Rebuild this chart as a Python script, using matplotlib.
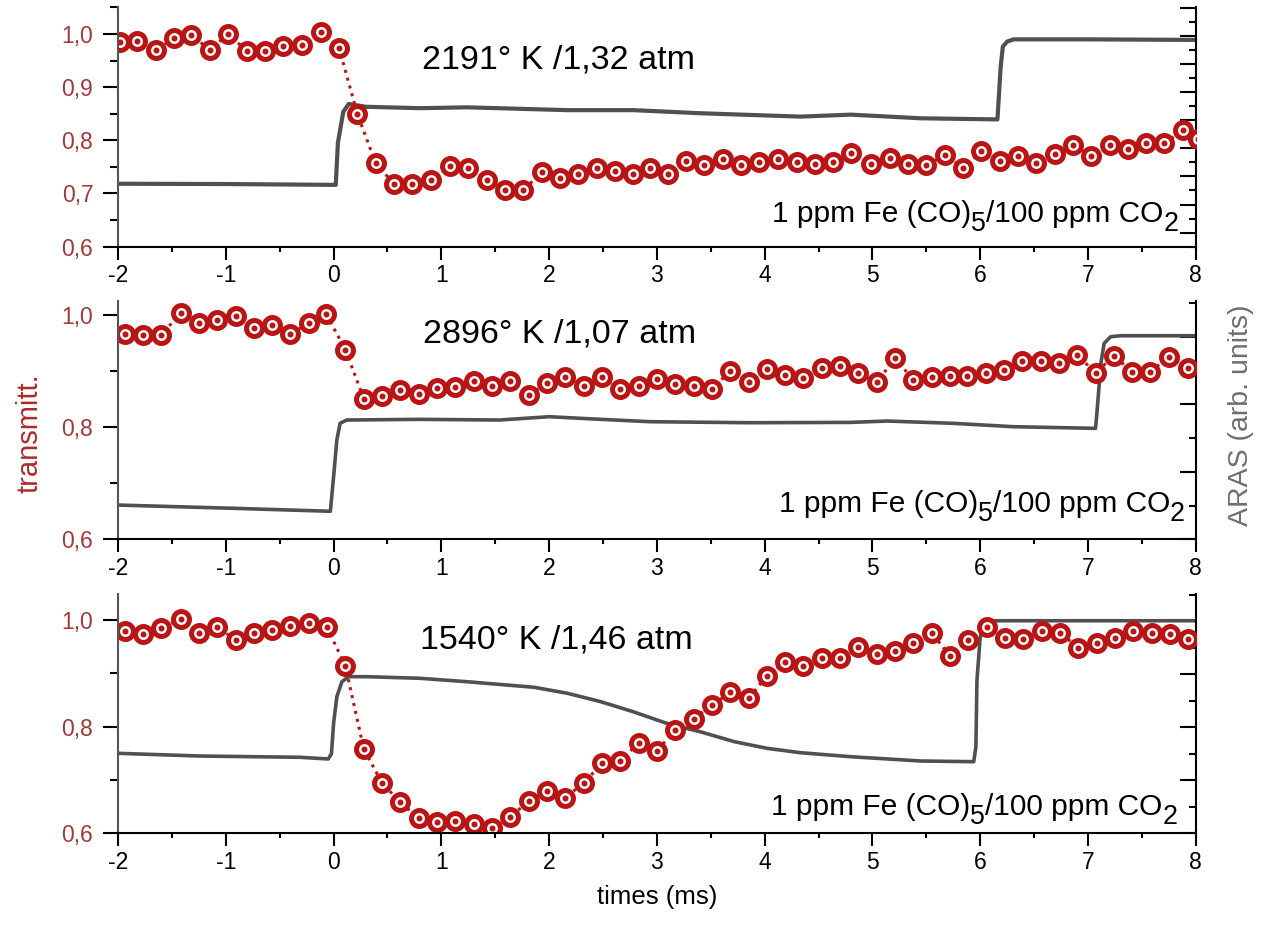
import matplotlib
matplotlib.use("Agg")
import matplotlib.pyplot as plt
from matplotlib.ticker import MultipleLocator, FuncFormatter
from matplotlib.transforms import blended_transform_factory

# transmittance points (red), one list per panel
t1_x = [-1.98, -1.82, -1.65, -1.48, -1.32, -1.15, -0.98, -0.80, -0.64, -0.47, -0.29, -0.12,
        0.05, 0.22, 0.39, 0.56, 0.73, 0.90, 1.08, 1.25, 1.42, 1.59, 1.76, 1.93, 2.10, 2.27,
        2.44, 2.61, 2.78, 2.94, 3.10, 3.27, 3.44, 3.61, 3.78, 3.95, 4.12, 4.30, 4.47, 4.63,
        4.80, 4.99, 5.16, 5.33, 5.50, 5.67, 5.84, 6.01, 6.18, 6.35, 6.52, 6.69, 6.86, 7.03,
        7.20, 7.37, 7.54, 7.71, 7.88, 8.02]
t1_y = [0.984, 0.987, 0.970, 0.992, 0.998, 0.970, 0.999, 0.968, 0.968, 0.977, 0.980, 1.004,
        0.974, 0.850, 0.757, 0.718, 0.718, 0.726, 0.751, 0.747, 0.725, 0.707, 0.706, 0.740,
        0.730, 0.736, 0.748, 0.742, 0.736, 0.748, 0.736, 0.762, 0.754, 0.764, 0.754, 0.760,
        0.764, 0.760, 0.756, 0.759, 0.777, 0.756, 0.767, 0.756, 0.753, 0.772, 0.748, 0.779,
        0.762, 0.770, 0.757, 0.774, 0.792, 0.770, 0.792, 0.783, 0.794, 0.794, 0.819, 0.803]

t2_x = [-1.935, -1.765, -1.60, -1.42, -1.25, -1.08, -0.91, -0.74, -0.57, -0.40, -0.23, -0.07,
        0.11, 0.28, 0.45, 0.62, 0.79, 0.96, 1.13, 1.30, 1.47, 1.64, 1.81, 1.98, 2.15, 2.32,
        2.49, 2.66, 2.83, 3.00, 3.17, 3.34, 3.51, 3.68, 3.85, 4.02, 4.19, 4.36, 4.53, 4.70,
        4.87, 5.04, 5.21, 5.38, 5.55, 5.72, 5.88, 6.05, 6.22, 6.39, 6.56, 6.73, 6.90, 7.07,
        7.24, 7.41, 7.58, 7.75, 7.93]
t2_y = [0.967, 0.964, 0.964, 1.004, 0.986, 0.992, 0.998, 0.976, 0.982, 0.966, 0.986, 1.002,
        0.938, 0.851, 0.856, 0.867, 0.859, 0.870, 0.872, 0.883, 0.874, 0.883, 0.858, 0.878,
        0.889, 0.874, 0.889, 0.868, 0.874, 0.886, 0.877, 0.874, 0.868, 0.900, 0.880, 0.904,
        0.893, 0.888, 0.906, 0.909, 0.896, 0.880, 0.923, 0.884, 0.889, 0.892, 0.892, 0.896,
        0.902, 0.918, 0.918, 0.914, 0.929, 0.897, 0.927, 0.899, 0.899, 0.926, 0.906]

t3_x = [-1.935, -1.765, -1.60, -1.42, -1.25, -1.08, -0.91, -0.74, -0.57, -0.40, -0.23, -0.06,
        0.11, 0.28, 0.45, 0.62, 0.79, 0.96, 1.13, 1.30, 1.47, 1.64, 1.81, 1.98, 2.15, 2.32,
        2.49, 2.66, 2.83, 3.00, 3.17, 3.34, 3.51, 3.68, 3.85, 4.02, 4.19, 4.36, 4.53, 4.70,
        4.87, 5.04, 5.21, 5.38, 5.55, 5.72, 5.89, 6.06, 6.23, 6.40, 6.57, 6.74, 6.91, 7.08,
        7.25, 7.42, 7.59, 7.76, 7.93]
t3_y = [0.980, 0.973, 0.984, 1.002, 0.975, 0.987, 0.962, 0.975, 0.981, 0.989, 0.995, 0.986,
        0.913, 0.758, 0.694, 0.658, 0.628, 0.621, 0.623, 0.618, 0.610, 0.631, 0.660, 0.680,
        0.667, 0.694, 0.731, 0.735, 0.770, 0.755, 0.793, 0.815, 0.840, 0.864, 0.853, 0.895,
        0.921, 0.913, 0.929, 0.929, 0.949, 0.936, 0.942, 0.956, 0.975, 0.933, 0.962, 0.987,
        0.967, 0.964, 0.979, 0.976, 0.948, 0.957, 0.966, 0.979, 0.975, 0.974, 0.964]

# ARAS traces (gray), arbitrary units of the right axis
a1_x = [-2.0, -1.0, 0.0, 0.02, 0.04, 0.09, 0.14, 0.30, 0.80, 1.24, 2.17, 2.78, 3.40, 4.33,
        4.80, 5.45, 6.16, 6.19, 6.21, 6.25, 6.31, 7.0, 8.0]
a1_y = [1.74, 1.73, 1.70, 1.70, 3.20, 4.30, 4.58, 4.48, 4.43, 4.46, 4.36, 4.36, 4.25, 4.13,
        4.20, 4.07, 4.03, 5.91, 6.62, 6.80, 6.88, 6.88, 6.86]

a2_x = [-2.0, -0.93, -0.03, 0.0, 0.03, 0.06, 0.12, 0.80, 1.54, 2.0, 2.48, 2.94, 3.87, 4.80,
        5.14, 5.75, 6.31, 7.07, 7.08, 7.12, 7.15, 7.21, 7.30, 8.0]
a2_y = [0.507, 0.459, 0.415, 0.926, 1.469, 1.716, 1.765, 1.775, 1.765, 1.814, 1.775, 1.740,
        1.725, 1.730, 1.750, 1.716, 1.666, 1.642, 1.814, 2.604, 2.899, 2.997, 3.012, 3.012]

a3_x = [-2.0, -1.24, -0.31, -0.05, -0.02, 0.0, 0.03, 0.077, 0.14, 0.31, 0.80, 1.24, 1.86,
        2.17, 2.48, 2.78, 3.09, 3.40, 3.72, 4.02, 4.33, 4.80, 5.45, 5.94, 5.96, 5.97, 6.0,
        6.05, 6.13, 8.0]
a3_y = [1.509, 1.458, 1.434, 1.402, 1.50, 2.075, 2.577, 2.860, 2.955, 2.955, 2.925, 2.860,
        2.755, 2.642, 2.483, 2.294, 2.075, 1.917, 1.728, 1.604, 1.521, 1.445, 1.364, 1.351,
        1.634, 2.892, 3.709, 3.962, 4.011, 4.011]

titles = ["2191° K /1,32 atm", "2896° K /1,07 atm", "1540° K /1,46 atm"]
mixture = ["1 ppm Fe (CO)", "5", "/100 ppm CO", "2"]

RED = "#BB1414"
RED_TXT = "#A3383A"
GRAY = "#505050"

plt.rcParams["font.family"] = ["Liberation Sans", "DejaVu Sans"]
plt.rcParams["axes.unicode_minus"] = False

panels = [
    dict(tx=t1_x, ty=t1_y, ax_=a1_x, ay=a1_y, pos=[0.0934, 0.7339, 0.8526, 0.2582],
         ylim=(0.6, 1.050), ymaj=0.1, ymin=0.05, rlim=(-0.5, 8.02), glw=3.0,
         title_xy=(0.82, 0.746), mix_xy=(4.07, 0.103)),
    dict(tx=t2_x, ty=t2_y, ax_=a2_x, ay=a2_y, pos=[0.0934, 0.4182, 0.8526, 0.2574],
         ylim=(0.6, 1.0255), ymaj=0.2, ymin=0.1, rlim=(0.0, 3.53), glw=2.6,
         title_xy=(0.83, 0.823), mix_xy=(4.13, 0.116)),
    dict(tx=t3_x, ty=t3_y, ax_=a3_x, ay=a3_y, pos=[0.0934, 0.1011, 0.8526, 0.2578],
         ylim=(0.6, 1.048), ymaj=0.2, ymin=0.1, rlim=(0.0, 4.51), glw=2.6,
         title_xy=(0.80, 0.775), mix_xy=(4.06, 0.077)),
]

comma = FuncFormatter(lambda v, p: f"{v:.1f}".replace(".", ","))


def put_mixture(ax, x, y, size):
    """Fe(CO)5 / CO2 label with full-size lowered subscripts, as in the original."""
    tr = blended_transform_factory(ax.transData, ax.transAxes)
    prev = ax.text(x, y, mixture[0], transform=tr, fontsize=size, ha="left", va="baseline")
    for i, s in enumerate(mixture[1:], start=1):
        sub = i % 2 == 1
        prev = ax.annotate(s, xy=(1.0, y), xycoords=(prev, ax.transAxes),
                           xytext=(0, -6.5 if sub else 0), textcoords="offset points",
                           fontsize=size * 0.9 if sub else size, ha="left", va="baseline",
                           annotation_clip=False)


fig = plt.figure(figsize=(12.64, 9.27), dpi=100)

for i, p in enumerate(panels):
    ax = fig.add_axes(p["pos"])
    ax2 = ax.twinx()
    ax.set_zorder(ax2.get_zorder() + 1)
    ax.patch.set_visible(False)

    ax2.plot(p["ax_"], p["ay"], color=GRAY, lw=p["glw"], solid_joinstyle="round")
    ax.plot(p["tx"], p["ty"], ls=":", lw=2.2, color=RED, marker="o", ms=11.5,
            mfc="white", mec=RED, mew=3.6)
    ax.plot(p["tx"], p["ty"], ls="none", marker="o", ms=3.3, color=RED)

    ax.set_xlim(-2, 8)
    ax.set_ylim(*p["ylim"])
    ax2.set_ylim(*p["rlim"])

    ax.xaxis.set_major_locator(MultipleLocator(1))
    ax.xaxis.set_minor_locator(MultipleLocator(0.5))
    ax.yaxis.set_major_locator(MultipleLocator(p["ymaj"]))
    ax.yaxis.set_minor_locator(MultipleLocator(p["ymin"]))
    ax.yaxis.set_major_formatter(comma)
    ax2.yaxis.set_major_locator(MultipleLocator(1))
    ax2.yaxis.set_minor_locator(MultipleLocator(0.5))
    ax2.set_yticklabels([])

    for s in ["top", "right"]:
        ax.spines[s].set_visible(False)
    for s in ["top", "left", "bottom"]:
        ax2.spines[s].set_visible(False)
    ax.spines["left"].set_color("#555555")
    for sp in [ax.spines["left"], ax.spines["bottom"], ax2.spines["right"]]:
        sp.set_linewidth(1.5)

    ax.tick_params(axis="x", which="major", direction="out", length=9.4, width=1.5,
                   labelsize=16.5, pad=3)
    ax.tick_params(axis="x", which="minor", direction="out", length=3.6, width=1.5)
    ax.tick_params(axis="y", which="major", direction="out", length=10.8, width=1.5,
                   labelsize=16.5, labelcolor=RED_TXT, pad=7)
    ax.tick_params(axis="y", which="minor", direction="out", length=5.8, width=1.5)
    ax2.tick_params(axis="y", which="major", direction="in", length=11.3, width=1.5)
    ax2.tick_params(axis="y", which="minor", direction="in", length=5.3, width=1.5)

    tx, ty = p["title_xy"]
    ax.text(tx, ty, titles[i], transform=blended_transform_factory(ax.transData, ax.transAxes),
            fontsize=24.5, ha="left", va="baseline")
    put_mixture(ax, *p["mix_xy"], 21.5)

    if i == 2:
        ax.set_xlabel("times (ms)", fontsize=18.5, labelpad=8)

fig.text(0.023, 0.533, "transmitt.", rotation=90, color="#B02A2A", fontsize=21,
         ha="center", va="center")
fig.text(0.982, 0.552, "ARAS (arb. units)", rotation=90, color="#6E6E6E", fontsize=20.5,
         ha="center", va="center")

fig.savefig("out.png", dpi=100)
